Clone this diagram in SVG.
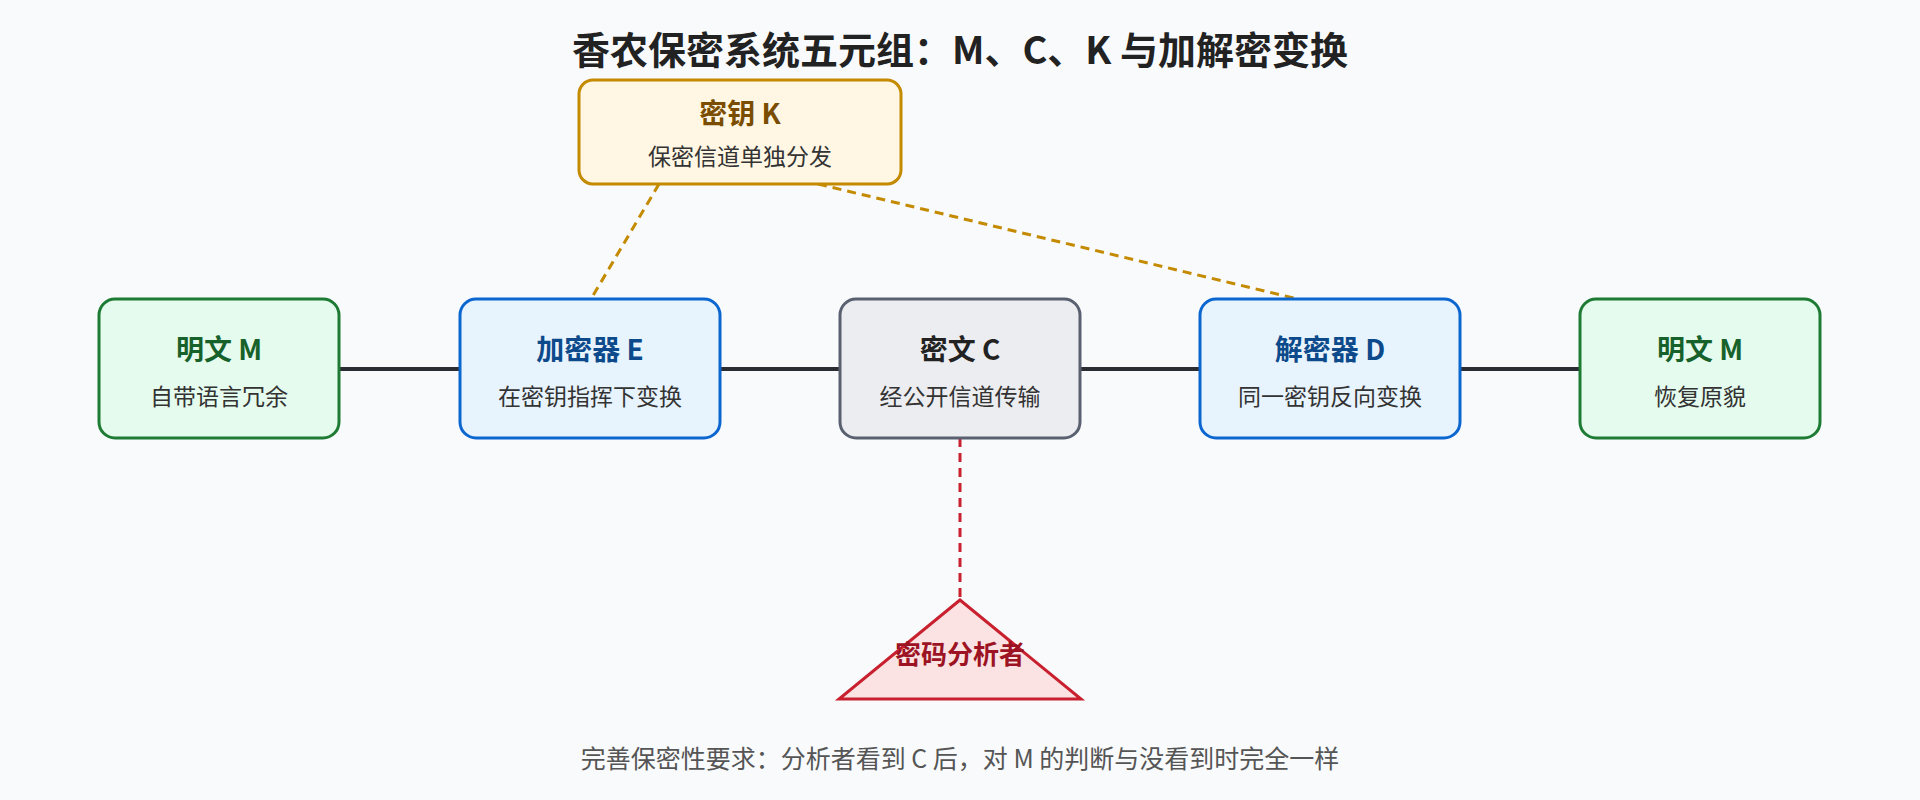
<svg xmlns="http://www.w3.org/2000/svg" width="1920" height="800" viewBox="0 0 1920 800">
<style>
text{font-family:"Noto Sans CJK SC","Noto Sans",sans-serif;text-anchor:middle}
.t{font-size:28px;font-weight:bold}
.s{font-size:23px;fill:#333}
.g rect{fill:#e5fbee;stroke:#1e7b34;stroke-width:3}
.g .t{fill:#17612b}
.b rect{fill:#e8f4fd;stroke:#0b66d0;stroke-width:3}
.b .t{fill:#0c4a8c}
.c rect{fill:#ecedf0;stroke:#596170;stroke-width:3}
.c .t{fill:#222}
.k rect{fill:#fff7e3;stroke:#c48a00;stroke-width:3}
.k .t{fill:#7a4d00}
</style>
<rect width="1920" height="800" fill="#f8fafc"/>
<text x="960" y="64" style="font-size:38px;font-weight:bold;fill:#222">香农保密系统五元组：M、C、K 与加解密变换</text>
<g id="connectors" fill="none">
<path d="M339 369H460M720 369H840M1080 369H1200M1460 369H1580" stroke="#2a2d33" stroke-width="4"/>
<path d="M659 184L591 299M818 184L1298 299" stroke="#c48a00" stroke-width="3" stroke-dasharray="9 6"/>
<path d="M960 438V600" stroke="#c8202e" stroke-width="3" stroke-dasharray="9 6"/>
</g>
<g id="key" class="k"><rect x="579" y="80" width="322" height="104" rx="14"/><text class="t" x="740" y="124">密钥 K</text><text class="s" x="740" y="165">保密信道单独分发</text></g>
<g id="m1" class="g"><rect x="99" y="299" width="240" height="139" rx="16"/><text class="t" x="219" y="360">明文 M</text><text class="s" x="219" y="405">自带语言冗余</text></g>
<g id="enc" class="b"><rect x="460" y="299" width="260" height="139" rx="16"/><text class="t" x="590" y="360">加密器 E</text><text class="s" x="590" y="405">在密钥指挥下变换</text></g>
<g id="cipher" class="c"><rect x="840" y="299" width="240" height="139" rx="16"/><text class="t" x="960" y="360">密文 C</text><text class="s" x="960" y="405">经公开信道传输</text></g>
<g id="dec" class="b"><rect x="1200" y="299" width="260" height="139" rx="16"/><text class="t" x="1330" y="360">解密器 D</text><text class="s" x="1330" y="405">同一密钥反向变换</text></g>
<g id="m2" class="g"><rect x="1580" y="299" width="240" height="139" rx="16"/><text class="t" x="1700" y="360">明文 M</text><text class="s" x="1700" y="405">恢复原貌</text></g>
<g id="analyst"><polygon points="960,600 839,699 1081,699" fill="#fbe3e3" stroke="#c8202e" stroke-width="3"/><text x="960" y="664" style="font-size:26px;font-weight:bold;fill:#9c1324">密码分析者</text></g>
<text x="960" y="768" style="font-size:25px;fill:#555">完善保密性要求：分析者看到 C 后，对 M 的判断与没看到时完全一样</text>
</svg>
